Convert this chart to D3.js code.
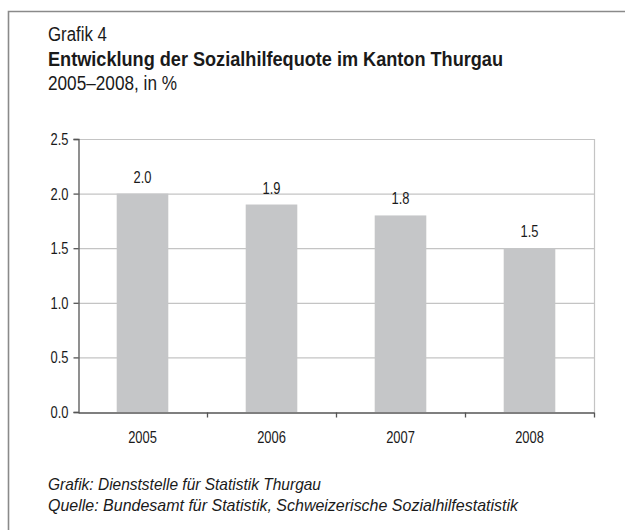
<!DOCTYPE html>
<html><head><meta charset="utf-8">
<script src="https://cdn.jsdelivr.net/npm/d3@7/dist/d3.min.js"></script>
<style>
body{margin:0;background:#fff;}
svg{display:block;}
text{font-family:"Liberation Sans",Arial,sans-serif;fill:#1a1a1a;}
</style></head>
<body>
<script>
const categories = ["2005","2006","2007","2008"];
const values = [2.0, 1.9, 1.8, 1.5];
const valueLabels = ["2.0","1.9","1.8","1.5"];
const yTicks = [0, 0.5, 1.0, 1.5, 2.0, 2.5];
const titleLines = ["Grafik 4","Entwicklung der Sozialhilfequote im Kanton Thurgau","2005–2008, in %"];
const footerLines = ["Grafik: Dienststelle für Statistik Thurgau","Quelle: Bundesamt für Statistik, Schweizerische Sozialhilfestatistik"];

const W = 625, H = 530;
const svg = d3.select("body").append("svg").attr("width", W).attr("height", H);

function condense(sel, f){
  sel.each(function(){
    const w = this.getComputedTextLength();
    d3.select(this).attr("textLength", w*f).attr("lengthAdjust","spacingAndGlyphs");
  });
  return sel;
}
function fitTo(sel, w){
  return sel.attr("textLength", w).attr("lengthAdjust","spacingAndGlyphs");
}
const F = 0.76;
const FS = 17;
const TX = 48;

// frame
svg.append("path").attr("d", `M8.5,${H} L8.5,11.5 L${W},11.5`)
  .attr("fill","none").attr("stroke","#8a8a8a").attr("stroke-width",1.6);

// titles
fitTo(svg.append("text").attr("x",TX).attr("y",41).attr("font-size",20).text(titleLines[0]), 59);
fitTo(svg.append("text").attr("x",TX).attr("y",66).attr("font-size",20).attr("font-weight","bold").text(titleLines[1]), 455);
fitTo(svg.append("text").attr("x",TX).attr("y",90).attr("font-size",20).text(titleLines[2]), 129);

const m = {left:78, right:594, top:139, bottom:412};
const x = d3.scaleBand().domain(categories).range([m.left, m.right]).padding(0);
const y = d3.scaleLinear().domain([0,2.5]).range([m.bottom, m.top]);

// gridlines
svg.append("g").selectAll("line").data(yTicks.filter(d=>d>0)).join("line")
  .attr("x1",m.left).attr("x2",m.right).attr("y1",d=>y(d)+0.5).attr("y2",d=>y(d)+0.5)
  .attr("stroke","#c4c4c4").attr("stroke-width",1.2);
// right border
svg.append("line").attr("x1",m.right+0.5).attr("x2",m.right+0.5).attr("y1",m.top).attr("y2",m.bottom)
  .attr("stroke","#c4c4c4").attr("stroke-width",1.2);

// bars
const bw = x.bandwidth()*0.4;
svg.append("g").selectAll("rect").data(values).join("rect")
  .attr("x",(d,i)=>x(categories[i]) + x.bandwidth()/2 - bw/2)
  .attr("width",bw)
  .attr("y",d=>y(d)).attr("height",d=>y(0)-y(d))
  .attr("fill","#c5c6c8");

// value labels
condense(svg.append("g").selectAll("text").data(values).join("text")
  .attr("x",(d,i)=>x(categories[i]) + x.bandwidth()/2)
  .attr("y",d=>y(d)-11).attr("text-anchor","middle").attr("font-size",FS)
  .text((d,i)=>valueLabels[i]), F);

// y axis
const yAxis = d3.axisLeft(y).tickValues(yTicks).tickFormat(d3.format(".1f")).tickSize(5).tickPadding(5);
const gy = svg.append("g").attr("transform",`translate(${m.left+0.5},0)`).call(yAxis);
gy.select(".domain").attr("stroke","#555").attr("stroke-width",1.3);
gy.selectAll(".tick line").attr("stroke","#555").attr("stroke-width",1.3);
gy.selectAll(".tick text").attr("font-size",FS).attr("fill","#1a1a1a")
  .attr("font-family",'"Liberation Sans",Arial,sans-serif');
condense(gy.selectAll(".tick text"), F);

// x axis
const gx = svg.append("g").attr("transform",`translate(0,${m.bottom+0.5})`)
  .call(d3.axisBottom(x).tickSize(0).tickPadding(18));
gx.select(".domain").attr("stroke","#555").attr("stroke-width",1.3);
gx.selectAll(".tick text").attr("font-size",FS).attr("fill","#1a1a1a")
  .attr("font-family",'"Liberation Sans",Arial,sans-serif');
condense(gx.selectAll(".tick text"), F);
// category boundary ticks
const bounds = categories.slice(1).map(c=>x(c)).concat([m.right]);
gx.append("g").selectAll("line").data(bounds).join("line")
  .attr("x1",d=>d+0.5).attr("x2",d=>d+0.5).attr("y1",0).attr("y2",5)
  .attr("stroke","#555").attr("stroke-width",1.3);

// footer
fitTo(svg.append("text").attr("x",TX).attr("y",490).attr("font-size",17).attr("font-style","italic").text(footerLines[0]), 273);
fitTo(svg.append("text").attr("x",TX).attr("y",511).attr("font-size",17).attr("font-style","italic").text(footerLines[1]), 470);
</script>
</body></html>
